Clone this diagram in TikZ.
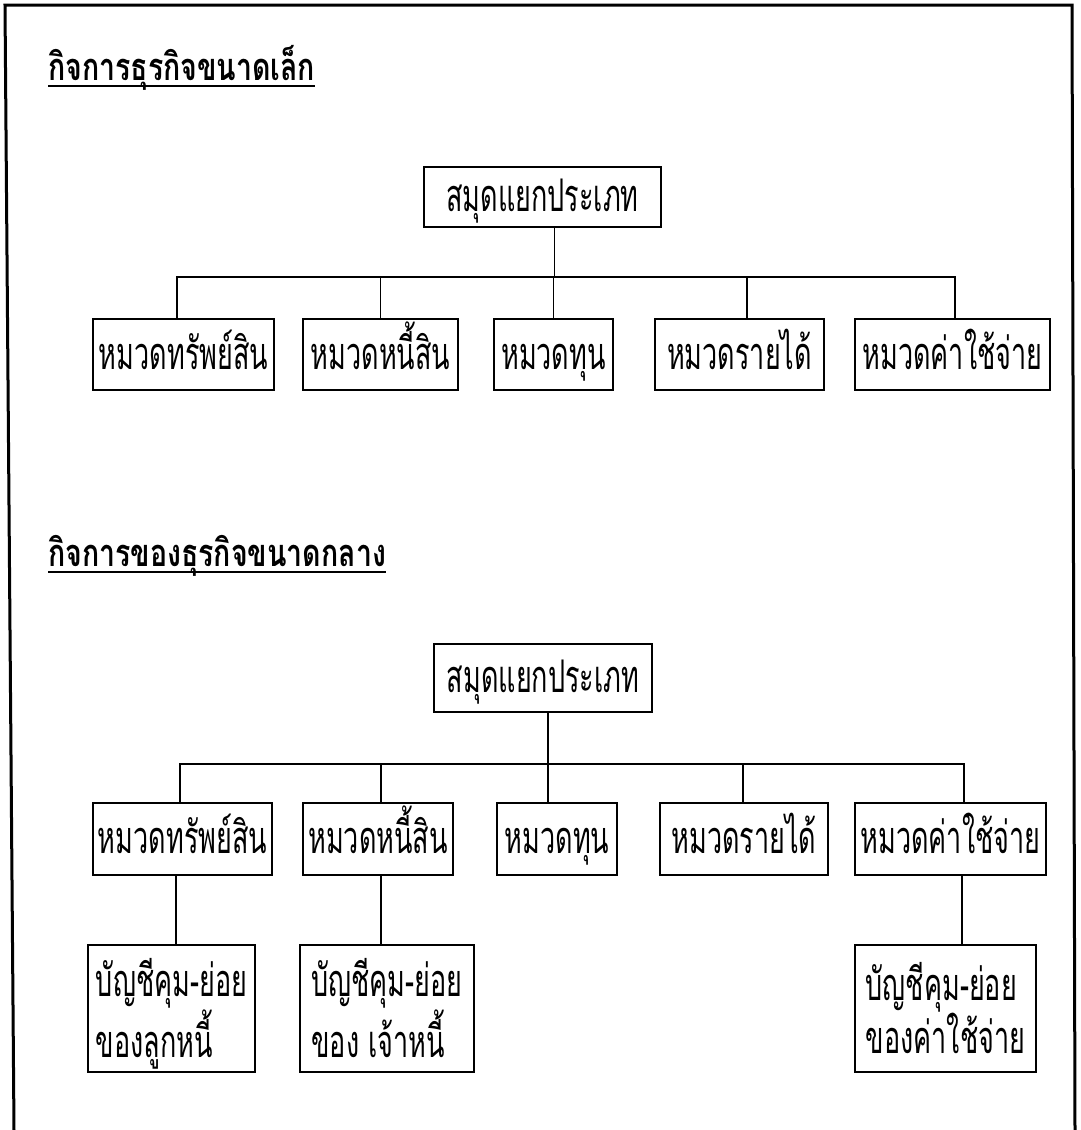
\documentclass[tikz,border=0pt]{standalone}
\usepackage{fontspec}
\newfontfamily\thaifont[Script=Thai,FakeStretch=0.6]{Loma}
\newfontfamily\thaititle[Script=Thai,FakeStretch=0.75]{Loma}
\newcommand{\toprule}{\rule{0pt}{49pt}}
\newcommand{\botrule}{\rule[-12pt]{0pt}{12pt}}
\begin{document}
\begin{tikzpicture}[x=1pt,y=-1pt,
  box/.style={draw, line width=1.6pt, inner sep=0pt, align=center,
    text height=38pt, text depth=9pt,
    font=\thaifont\fontsize{45}{50}\selectfont},
  subbox/.style={draw, line width=1.6pt, inner sep=0pt, align=left,
    font=\thaifont\fontsize{45}{50}\selectfont},
  conn/.style={line width=1.5pt},
  frame/.style={line width=3pt},
  ttl/.style={anchor=base west, inner sep=0pt, font=\thaititle\bfseries\fontsize{38}{44}\selectfont},
  uline/.style={line width=2.5pt}]
\useasboundingbox (0,0) rectangle (1081,1130);
\fill[white] (0,0) rectangle (1081,1130);
% frame
\coordinate (fbl) at (14,1130);
\coordinate (ftl) at (5,5);
\coordinate (ftr) at (1072,5);
\coordinate (fbr) at (1075,1130);
\draw[frame] (fbl) -- (ftl) -- (ftr) -- (fbr);

% ---------- first chart ----------
\node[ttl] (t1) at (48,80) {กิจการธุรกิจขนาดเล็ก};
\draw[uline] ([yshift=-6pt]t1.base west) -- ([yshift=-6pt]t1.base east);

\node[box, minimum width=237pt, minimum height=60pt] (A) at (542.5,197) {สมุดแยกประเภท};
\node[box, minimum width=181pt, minimum height=71pt] (r1) at (183.5,354.5) {หมวดทรัพย์สิน};
\node[box, minimum width=155pt, minimum height=71pt] (r2) at (380.5,354.5) {หมวดหนี้สิน};
\node[box, minimum width=119pt, minimum height=71pt] (r3) at (553.5,354.5) {หมวดทุน};
\node[box, minimum width=169pt, minimum height=71pt] (r4) at (739.5,354.5) {หมวดรายได้};
\node[box, minimum width=195pt, minimum height=71pt] (r5) at (952.5,354.5) {หมวดค่าใช้จ่าย};
\coordinate (bus1) at (0,277);
\draw[conn] ([xshift=12pt]A.south) -- ([xshift=12pt]A.south |- bus1);
\draw[conn] ([xshift=-6.5pt]r1.north) |- ([xshift=2.5pt]r5.north |- bus1) -- ([xshift=2.5pt]r5.north);
\draw[conn] (r2.north) -- (r2.north |- bus1);
\draw[conn] (r3.north) -- (r3.north |- bus1);
\draw[conn] ([xshift=7.5pt]r4.north) -- ([xshift=7.5pt]r4.north |- bus1);

% ---------- second chart ----------
\node[ttl] (t2) at (48,566) {กิจการของธุรกิจขนาดกลาง};
\draw[uline] ([yshift=-6pt]t2.base west) -- ([yshift=-6pt]t2.base east);

\node[box, minimum width=218pt, minimum height=68pt] (B) at (543,678) {สมุดแยกประเภท};
\node[box, minimum width=179pt, minimum height=72pt] (s1) at (182.5,839) {หมวดทรัพย์สิน};
\node[box, minimum width=150pt, minimum height=72pt] (s2) at (378,839) {หมวดหนี้สิน};
\node[box, minimum width=120pt, minimum height=72pt] (s3) at (557,839) {หมวดทุน};
\node[box, minimum width=168pt, minimum height=72pt] (s4) at (744,839) {หมวดรายได้};
\node[box, minimum width=191pt, minimum height=72pt] (s5) at (950.5,839) {หมวดค่าใช้จ่าย};
\coordinate (bus2) at (0,764);
\draw[conn] ([xshift=5pt]B.south) -- ([xshift=5pt]B.south |- bus2);
\draw[conn] ([xshift=-2.5pt]s1.north) |- ([xshift=13.5pt]s5.north |- bus2) -- ([xshift=13.5pt]s5.north);
\draw[conn] ([xshift=3pt]s2.north) -- ([xshift=3pt]s2.north |- bus2);
\draw[conn] ([xshift=-9pt]s3.north) -- ([xshift=-9pt]s3.north |- bus2);
\draw[conn] ([xshift=-1pt]s4.north) -- ([xshift=-1pt]s4.north |- bus2);

\node[subbox, minimum width=167pt, minimum height=127pt] (u1) at (171.5,1008.5) {\toprule บัญชีคุม-ย่อย\\ของลูกหนี้\botrule};
\node[subbox, minimum width=174pt, minimum height=127pt] (u2) at (387,1008.5) {\toprule บัญชีคุม-ย่อย\\ของ เจ้าหนี้\botrule};
\node[subbox, minimum width=181pt, minimum height=127pt] (u3) at (945.5,1008.5) {\toprule บัญชีคุม-ย่อย\\ของค่าใช้จ่าย\botrule};
\draw[conn] ([xshift=-6.5pt]s1.south) -- ([xshift=-6.5pt]s1.south |- u1.north);
\draw[conn] ([xshift=3pt]s2.south) -- ([xshift=3pt]s2.south |- u2.north);
\draw[conn] ([xshift=11.5pt]s5.south) -- ([xshift=11.5pt]s5.south |- u3.north);
\end{tikzpicture}
\end{document}
